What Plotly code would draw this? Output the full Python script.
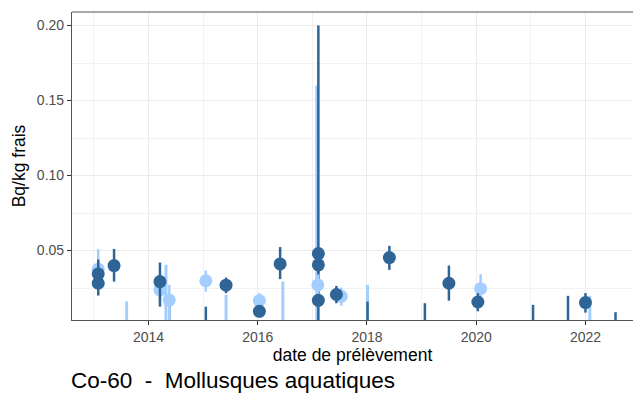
import plotly.graph_objects as go

# ---- data (decimal year, Bq/kg frais) ----
dark_x = [2013.08, 2013.08, 2013.37, 2014.21, 2015.42, 2016.03, 2016.41, 2017.11, 2017.11, 2017.11, 2017.44, 2018.41, 2019.50, 2020.03, 2022.00]
dark_y = [0.0282, 0.0344, 0.0400, 0.0293, 0.0269, 0.0095, 0.0411, 0.0480, 0.0405, 0.0168, 0.0207, 0.0453, 0.0282, 0.0157, 0.0153]
dark_lo = [0.0200, 0.0290, 0.0293, 0.0126, 0.0216, 0.0070, 0.0310, 0.0440, 0.0350, 0.0130, 0.0149, 0.0371, 0.0166, 0.0095, 0.0086]
dark_hi = [0.0360, 0.0440, 0.0510, 0.0420, 0.0320, 0.0110, 0.0523, 0.0520, 0.0450, 0.0200, 0.0264, 0.0531, 0.0400, 0.0216, 0.0216]

light_x = [2013.08, 2014.21, 2014.38, 2015.05, 2016.03, 2017.10, 2017.53, 2020.08]
light_y = [0.0376, 0.0238, 0.0170, 0.0298, 0.0166, 0.0271, 0.0195, 0.0246]
light_lo = [0.0300, 0.0160, 0.0030, 0.0226, 0.0120, 0.0200, 0.0131, 0.0180]
light_hi = [0.0510, 0.0310, 0.0270, 0.0367, 0.0216, 0.0340, 0.0253, 0.0342]

# detection-limit bars (from 0 up to the limit)
dark_bar_x = [2014.38, 2015.05, 2017.11, 2018.01, 2019.06, 2021.04, 2021.68, 2022.55]
dark_bar_y = [0.0200, 0.0126, 0.2000, 0.0160, 0.0149, 0.0138, 0.0198, 0.0089]
light_bar_x = [2013.60, 2014.32, 2015.42, 2016.46, 2017.08, 2018.01, 2022.08]
light_bar_y = [0.0160, 0.0405, 0.0204, 0.0293, 0.1600, 0.0271, 0.0198]

x_ticks = [2014, 2016, 2018, 2020, 2022]
x_minor = [2013, 2015, 2017, 2019, 2021]
y_ticks = [0.05, 0.10, 0.15, 0.20]
y_tick_labels = ["0.05", "0.10", "0.15", "0.20"]
y_minor = [0.025, 0.075, 0.125, 0.175]

DARK = "#2F6497"
LIGHT = "#A3CEFF"


def seg(xs, ys):
    sx, sy = [], []
    for x, y in zip(xs, ys):
        sx += [x, x, None]
        sy += [0, y, None]
    return sx, sy


fig = go.Figure()
lx, ly = seg(light_bar_x, light_bar_y)
fig.add_trace(go.Scatter(x=lx, y=ly, mode="lines", line=dict(color=LIGHT, width=3), hoverinfo="skip"))
dx, dy = seg(dark_bar_x, dark_bar_y)
fig.add_trace(go.Scatter(x=dx, y=dy, mode="lines", line=dict(color=DARK, width=2.5), hoverinfo="skip"))

fig.add_trace(go.Scatter(
    x=light_x, y=light_y, mode="markers",
    marker=dict(color=LIGHT, size=13),
    error_y=dict(type="data", symmetric=False,
                 array=[h - v for h, v in zip(light_hi, light_y)],
                 arrayminus=[v - l for l, v in zip(light_lo, light_y)],
                 color=LIGHT, thickness=2.5, width=0)))
fig.add_trace(go.Scatter(
    x=dark_x, y=dark_y, mode="markers",
    marker=dict(color=DARK, size=13),
    error_y=dict(type="data", symmetric=False,
                 array=[h - v for h, v in zip(dark_hi, dark_y)],
                 arrayminus=[v - l for l, v in zip(dark_lo, dark_y)],
                 color=DARK, thickness=2.5, width=0)))

fig.update_layout(
    width=633, height=394,
    margin=dict(l=72, r=0, t=12, b=74),
    plot_bgcolor="white", paper_bgcolor="white",
    showlegend=False,
    font=dict(family="Liberation Sans, Arial, sans-serif", color="#000000"),
    xaxis=dict(
        range=[2012.60, 2022.87],
        tickvals=x_ticks, ticktext=[str(t) for t in x_ticks],
        ticks="outside", ticklen=4, tickcolor="#333333", tickwidth=1,
        tickfont=dict(size=14, color="#4D4D4D"),
        showgrid=True, gridcolor="#EBEBEB", gridwidth=1.2,
        minor=dict(tickvals=x_minor, showgrid=True, gridcolor="#F2F2F2", gridwidth=0.6, ticks=""),
        showline=True, linecolor="#555555", linewidth=1.2,
        zeroline=False,
        title=dict(text="date de prélèvement", font=dict(size=17.5), standoff=4),
    ),
    yaxis=dict(
        range=[0.0037, 0.209],
        tickvals=y_ticks, ticktext=y_tick_labels,
        ticks="outside", ticklen=4, tickcolor="#333333", tickwidth=1,
        tickfont=dict(size=14, color="#4D4D4D"),
        showgrid=True, gridcolor="#EBEBEB", gridwidth=1.2,
        minor=dict(tickvals=y_minor, showgrid=True, gridcolor="#F2F2F2", gridwidth=0.6, ticks=""),
        showline=True, linecolor="#555555", linewidth=1.2,
        zeroline=False,
        title=dict(text="Bq/kg frais", font=dict(size=17.5), standoff=6),
    ),
    shapes=[dict(type="line", xref="paper", yref="paper", x0=0, x1=1.01, y0=1, y1=1,
                 line=dict(color="#555555", width=1.2))],
    annotations=[dict(text="Co-60  -  Mollusques aquatiques", xref="paper", yref="paper",
                      x=0, y=-0.198, xanchor="left", yanchor="middle", showarrow=False,
                      xshift=-3,
                      font=dict(size=22.5, color="#000000"))],
)

fig.write_html("out.html")
